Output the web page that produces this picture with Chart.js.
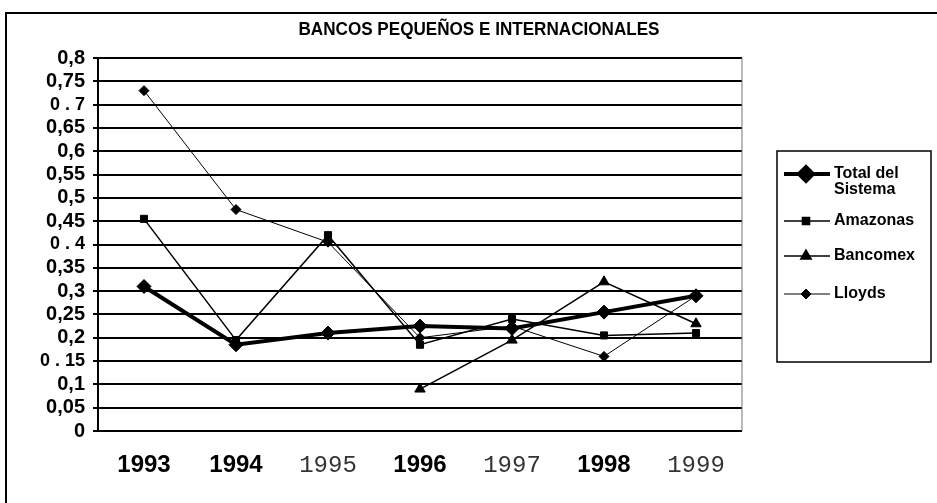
<!DOCTYPE html>
<html>
<head>
<meta charset="utf-8">
<script src="https://cdn.jsdelivr.net/npm/chart.js@4.4.1/dist/chart.umd.min.js"></script>
<style>
  html, body { margin: 0; padding: 0; background: #fff; }
  #wrap { width: 937px; height: 503px; position: relative; }
</style>
</head>
<body>
<div id="wrap"><canvas id="myChart" width="937" height="503"></canvas></div>
<script>
// datos
const anios = ['1993', '1994', '1995', '1996', '1997', '1998', '1999'];
const totalSistema = [0.31, 0.185, 0.21, 0.225, 0.22, 0.255, 0.29];
const amazonas = [0.455, 0.195, 0.42, 0.185, 0.24, 0.205, 0.21];
const bancomex = [null, null, null, 0.09, 0.195, 0.32, 0.23];
const lloyds = [0.73, 0.475, 0.405, 0.2, 0.225, 0.16, 0.29];
const yTickLabels = ['0', '0,05', '0,1', '0 . 15', '0,2', '0,25', '0,3', '0,35', '0 . 4',
    '0,45', '0,5', '0,55', '0,6', '0,65', '0 . 7', '0,75', '0,8'];
const boldYears = ['1993', '1994', '1996', '1998'];

const tituloTxt = 'BANCOS PEQUEÑOS E INTERNACIONALES';

// titulo, marco y leyenda dibujados a mano
const marcoLeyenda = {
    id: 'marcoLeyenda',
    afterDraw(chart) {
        const c = chart.ctx;
        const area = chart.chartArea;
        c.save();
        // titulo (un poco condensado)
        c.save();
        c.translate(479, 30);
        c.scale(0.9, 1);
        c.font = 'bold 19px "Liberation Sans", Arial, sans-serif';
        c.fillStyle = '#000';
        c.textAlign = 'center';
        c.textBaseline = 'middle';
        c.fillText(tituloTxt, 0, 0);
        c.restore();

        // marco exterior
        c.strokeStyle = '#000';
        c.lineWidth = 2;
        c.beginPath();
        c.moveTo(6, 503);
        c.lineTo(6, 13);
        c.lineTo(937, 13);
        c.stroke();
        // borde derecho del area
        c.strokeStyle = '#777';
        c.lineWidth = 1;
        c.beginPath();
        c.moveTo(area.right, area.top);
        c.lineTo(area.right, area.bottom);
        c.stroke();

        // caja de la leyenda
        const bx = 777, by = 151, bw = 154, bh = 211;
        c.strokeStyle = '#000';
        c.lineWidth = 1.5;
        c.strokeRect(bx, by, bw, bh);
        const items = [
            { ds: 0, lines: ['Total del', 'Sistema'], y: 174 },
            { ds: 1, lines: ['Amazonas'], y: 221 },
            { ds: 2, lines: ['Bancomex'], y: 256 },
            { ds: 3, lines: ['Lloyds'], y: 294 }
        ];
        c.font = 'bold 16px "Liberation Sans", Arial, sans-serif';
        c.textBaseline = 'middle';
        c.fillStyle = '#000';
        items.forEach(it => {
            const ds = chart.data.datasets[it.ds];
            c.strokeStyle = '#000';
            c.lineWidth = ds.borderWidth;
            c.beginPath();
            c.moveTo(784, it.y);
            c.lineTo(830, it.y);
            c.stroke();
            Chart.helpers.drawPoint(c, {
                pointStyle: ds.pointStyle,
                radius: ds.pointRadius,
                borderWidth: 1
            }, 806, it.y);
            it.lines.forEach((t, i) => c.fillText(t, 834, it.y + i * 16));
        });
        c.restore();
    }
};

const ctx = document.getElementById('myChart');
const myChart = new Chart(ctx, {
    type: 'line',
    data: {
        labels: anios,
        datasets: [{
            label: 'Total del Sistema',
            data: totalSistema,
            borderColor: '#000',
            backgroundColor: '#000',
            borderWidth: 4,
            pointStyle: 'rectRot',
            pointRadius: 7,
            pointBorderWidth: 1
        }, {
            label: 'Amazonas',
            data: amazonas,
            borderColor: '#000',
            backgroundColor: '#000',
            borderWidth: 1.5,
            pointStyle: 'rect',
            pointRadius: 5,
            pointBorderWidth: 1
        }, {
            label: 'Bancomex',
            data: bancomex,
            borderColor: '#000',
            backgroundColor: '#000',
            borderWidth: 1.5,
            pointStyle: 'triangle',
            pointRadius: 6,
            pointBorderWidth: 1
        }, {
            label: 'Lloyds',
            data: lloyds,
            borderColor: '#000',
            backgroundColor: '#000',
            borderWidth: 1,
            pointStyle: 'rectRot',
            pointRadius: 5,
            pointBorderWidth: 1
        }]
    },
    options: {
        responsive: false,
        animation: false,
        layout: { padding: { left: 0, right: 195, top: 58, bottom: 0 } },
        plugins: {
            legend: { display: false },
            tooltip: { enabled: false },
            title: { display: false }
        },
        scales: {
            x: {
                offset: true,
                grid: { display: false, drawTicks: false },
                border: { display: false },
                afterFit(scale) { scale.height = 72; },
                ticks: {
                    padding: 20,
                    autoSkip: false,
                    maxRotation: 0,
                    color: (c) => boldYears.includes(anios[c.index]) ? '#000' : '#333',
                    font: (c) => {
                        const lab = anios[c.index];
                        return boldYears.includes(lab)
                            ? { family: '"Liberation Sans", Arial, sans-serif', size: 24, weight: 'bold' }
                            : { family: '"Liberation Mono", "Courier New", monospace', size: 24, weight: 'normal' };
                    }
                }
            },
            y: {
                min: 0,
                max: 0.8,
                afterFit(scale) { scale.width = 98; },
                grid: { color: '#000', lineWidth: 2, tickLength: 5, tickColor: '#000' },
                border: { color: '#000', width: 2 },
                ticks: {
                    stepSize: 0.05,
                    autoSkip: false,
                    color: '#000',
                    padding: 8,
                    font: (c) => {
                        const lab = yTickLabels[c.index] || '';
                        return lab.includes(' . ')
                            ? { family: '"Liberation Sans", Arial, sans-serif', size: 18, weight: 'bold' }
                            : { family: '"Liberation Sans", Arial, sans-serif', size: 20, weight: 'bold' };
                    },
                    callback: (v, i) => yTickLabels[i]
                }
            }
        }
    },
    plugins: [marcoLeyenda]
});
</script>
</body>
</html>
